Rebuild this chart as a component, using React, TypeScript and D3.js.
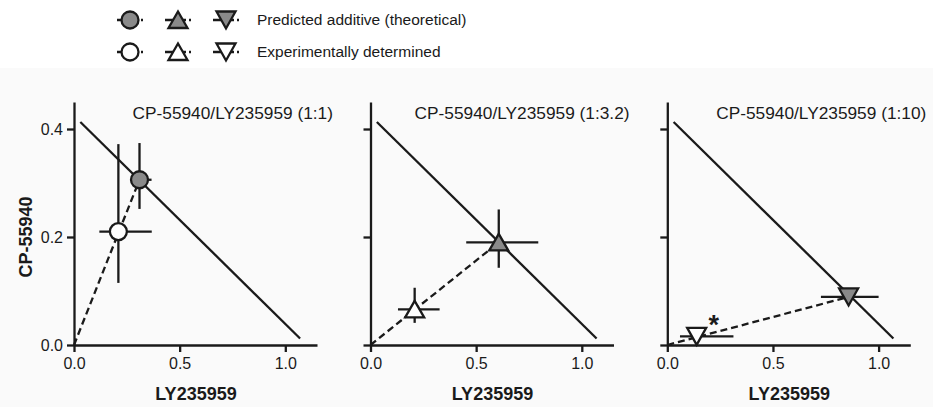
import React, { useEffect, useRef } from "react";
import * as d3 from "d3";

// chart values
const xTicks = [0, 0.5, 1.0];
const yTicks = [0, 0.2, 0.4];
const panelTitles = [
  "CP-55940/LY235959 (1:1)",
  "CP-55940/LY235959 (1:3.2)",
  "CP-55940/LY235959 (1:10)",
];
const markerShapes = ["circle", "up", "down"];
const isoboleX = [0.03, 1.07];
const isoboleY = [0.413, 0.012];

const predX = [0.31, 0.607, 0.858];
const predY = [0.306, 0.19, 0.089];
const predXLo = [0.273, 0.453, 0.727];
const predXHi = [0.367, 0.794, 1.0];
const predYLo = [0.252, 0.143, 0.089];
const predYHi = [0.374, 0.251, 0.089];

const expX = [0.21, 0.209, 0.139];
const expY = [0.21, 0.066, 0.016];
const expXLo = [0.12, 0.13, 0.06];
const expXHi = [0.368, 0.327, 0.313];
const expYLo = [0.115, 0.041, 0.016];
const expYHi = [0.372, 0.106, 0.016];
const significant = [false, false, true];

const legendLabels = ["Predicted additive (theoretical)", "Experimentally determined"];
const legendFills = ["#8a8a8a", "#ffffff"];

const FONT = "'Liberation Sans', Arial, sans-serif";
const INK = "#1a1a1a";
const SW = 2.3;

const markerPath = (shape: string) => {
  if (shape === "circle") {
    const p = d3.path();
    p.arc(0, 0, 8.5, 0, Math.PI * 2);
    p.closePath();
    return p.toString();
  }
  if (shape === "up") return "M0,-8.5L9.5,8L-9.5,8Z";
  return "M-9.5,-8.5L9.5,-8.5L0,8.5Z";
};

export default function App() {
  const ref = useRef<SVGSVGElement>(null);

  useEffect(() => {
    const svg = d3.select(ref.current);
    svg.selectAll("*").remove();

    svg.append("rect").attr("x", 0).attr("y", 0).attr("width", 933).attr("height", 407).attr("fill", "#fff");
    svg.append("rect").attr("x", 0).attr("y", 68).attr("width", 933).attr("height", 339).attr("fill", "#fafafa");

    // legend
    const legendX = [130, 178, 226];
    legendLabels.forEach((label, row) => {
      const ly = 20 + row * 32;
      const g = svg.append("g").attr("transform", `translate(0,${ly})`);
      markerShapes.forEach((shape, i) => {
        g.append("line")
          .attr("x1", legendX[i] - 13).attr("x2", legendX[i] + 14)
          .attr("y1", 0).attr("y2", 0)
          .attr("stroke", INK).attr("stroke-width", SW)
          .attr("stroke-dasharray", "21,3,2");
        g.append("path").attr("d", markerPath(shape))
          .attr("transform", `translate(${legendX[i]},0)`)
          .attr("fill", legendFills[row]).attr("stroke", INK).attr("stroke-width", SW);
      });
      g.append("text").attr("x", 257).attr("y", 0).attr("dy", "0.35em")
        .attr("font-family", FONT).attr("font-size", 15.5).attr("fill", INK)
        .text(label);
    });

    const panelLeft = [74, 370.5, 667.3];
    const baseY = 345;
    const x = d3.scaleLinear().domain([0, 1.15]).range([0, 243]);
    const y = d3.scaleLinear().domain([0, 0.45]).range([243, 0]);

    panelTitles.forEach((title, i) => {
      const g = svg.append("g").attr("transform", `translate(${panelLeft[i]},${baseY - 243})`);

      const xAxis = g.append("g").attr("transform", "translate(0,243)")
        .call(d3.axisBottom(x).tickValues(xTicks).tickFormat(d3.format(".1f")).tickSize(7).tickSizeOuter(0).tickPadding(6));
      const yAxis = g.append("g")
        .call(d3.axisLeft(y).tickValues(yTicks).tickFormat(i === 0 ? d3.format(".1f") : () => "").tickSize(7).tickSizeOuter(0).tickPadding(4));
      [xAxis, yAxis].forEach((ax) => {
        ax.selectAll("path, line").attr("stroke", INK).attr("stroke-width", SW);
        ax.selectAll("text").attr("font-family", FONT).attr("font-size", 16).attr("fill", INK);
      });

      g.append("text").attr("x", 259).attr("y", 17).attr("text-anchor", "end")
        .attr("font-family", FONT).attr("font-size", 17.3).attr("fill", INK).text(title);

      g.append("text").attr("x", 122).attr("y", 298).attr("text-anchor", "middle")
        .attr("font-family", FONT).attr("font-size", 18).attr("font-weight", "bold").attr("fill", INK)
        .text("LY235959");
      if (i === 0) {
        g.append("text").attr("transform", `translate(${26 - panelLeft[0]},${135}) rotate(-90)`)
          .attr("text-anchor", "middle").attr("dy", "0.35em")
          .attr("font-family", FONT).attr("font-size", 18).attr("font-weight", "bold").attr("fill", INK)
          .text("CP-55940");
      }

      // additive isobole
      g.append("line")
        .attr("x1", x(isoboleX[0])).attr("y1", y(isoboleY[0]))
        .attr("x2", x(isoboleX[1])).attr("y2", y(isoboleY[1]))
        .attr("stroke", INK).attr("stroke-width", SW);

      // dashed ratio line from origin
      g.append("line")
        .attr("x1", x(0)).attr("y1", y(0))
        .attr("x2", x(predX[i])).attr("y2", y(predY[i]))
        .attr("stroke", INK).attr("stroke-width", SW).attr("stroke-dasharray", "7,4");

      const points = [
        { cx: predX[i], cy: predY[i], xl: predXLo[i], xh: predXHi[i], yl: predYLo[i], yh: predYHi[i], fill: legendFills[0] },
        { cx: expX[i], cy: expY[i], xl: expXLo[i], xh: expXHi[i], yl: expYLo[i], yh: expYHi[i], fill: legendFills[1] },
      ];
      points.forEach((p) => {
        g.append("line").attr("x1", x(p.xl)).attr("x2", x(p.xh)).attr("y1", y(p.cy)).attr("y2", y(p.cy))
          .attr("stroke", INK).attr("stroke-width", SW);
        if (p.yh > p.yl) {
          g.append("line").attr("x1", x(p.cx)).attr("x2", x(p.cx)).attr("y1", y(p.yl)).attr("y2", y(p.yh))
            .attr("stroke", INK).attr("stroke-width", SW);
        }
      });
      points.forEach((p) => {
        g.append("path").attr("d", markerPath(markerShapes[i]))
          .attr("transform", `translate(${x(p.cx)},${y(p.cy)})`)
          .attr("fill", p.fill).attr("stroke", INK).attr("stroke-width", SW);
      });

      if (significant[i]) {
        g.append("text").attr("x", x(expX[i]) + 17).attr("y", y(expY[i]) - 2)
          .attr("text-anchor", "middle").attr("font-family", FONT).attr("font-size", 27)
          .attr("font-weight", "bold").attr("fill", INK).text("*");
      }
    });
  }, []);

  return (
    <svg ref={ref} width={933} height={407}
      style={{ position: "absolute", left: 0, top: 0, display: "block" }} />
  );
}
